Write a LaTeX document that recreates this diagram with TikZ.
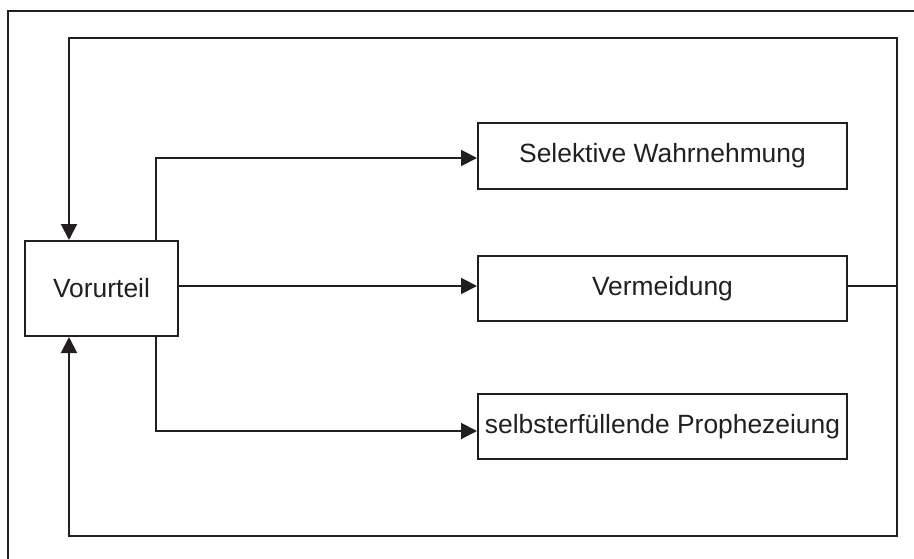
\documentclass[tikz,border=0pt]{standalone}
\usepackage{fontspec}
\setmainfont{Liberation Sans}
\usetikzlibrary{arrows.meta}
\definecolor{ink}{HTML}{231F20}
\begin{document}
\begin{tikzpicture}[x=1pt,y=-1pt,
  box/.style={draw=ink,line width=2pt,inner sep=0pt,font=\fontsize{26.4}{30}\selectfont,text=ink},
  conn/.style={draw=ink,line width=2pt},
  arr/.style={conn,-{Triangle[length=16pt,width=16pt]}}]
\useasboundingbox (0,0) rectangle (914,558);
% outer frame (clipped by page)
\draw[conn,line width=1.8pt] (8,560) -- (8,11) -- (916,11);
\node[box,minimum width=153pt,minimum height=95pt] (v) at (101.5,288.5) {Vorurteil};
\node[box,minimum width=369pt,minimum height=66pt] (s) at (662.5,156) {Selektive Wahrnehmung};
\node[box,minimum width=369pt,minimum height=65pt] (m) at (662.5,288.5) {Vermeidung};
\node[box,minimum width=369pt,minimum height=65pt] (p) at (662.5,426.5) {selbsterfüllende Prophezeiung};
\coordinate (bx) at (156,0);
\coordinate (lx) at (69,0);
\coordinate (sy) at (0,158);
\coordinate (py) at (0,431);
\coordinate (r) at (897,286);
\coordinate (tr) at (897,38);
\coordinate (brc) at (897,536);
\draw[arr] (v.north -| bx) |- (s.west |- sy);
\draw[arr] (v.south -| bx) |- (p.west |- py);
\draw[arr] (v.east |- r) -- (m.west |- r);
\draw[conn] (m.east |- r) -- (r);
\draw[arr] (r) -- (tr) -| (v.north -| lx);
\draw[arr] (r) -- (brc) -| (v.south -| lx);
\end{tikzpicture}
\end{document}
